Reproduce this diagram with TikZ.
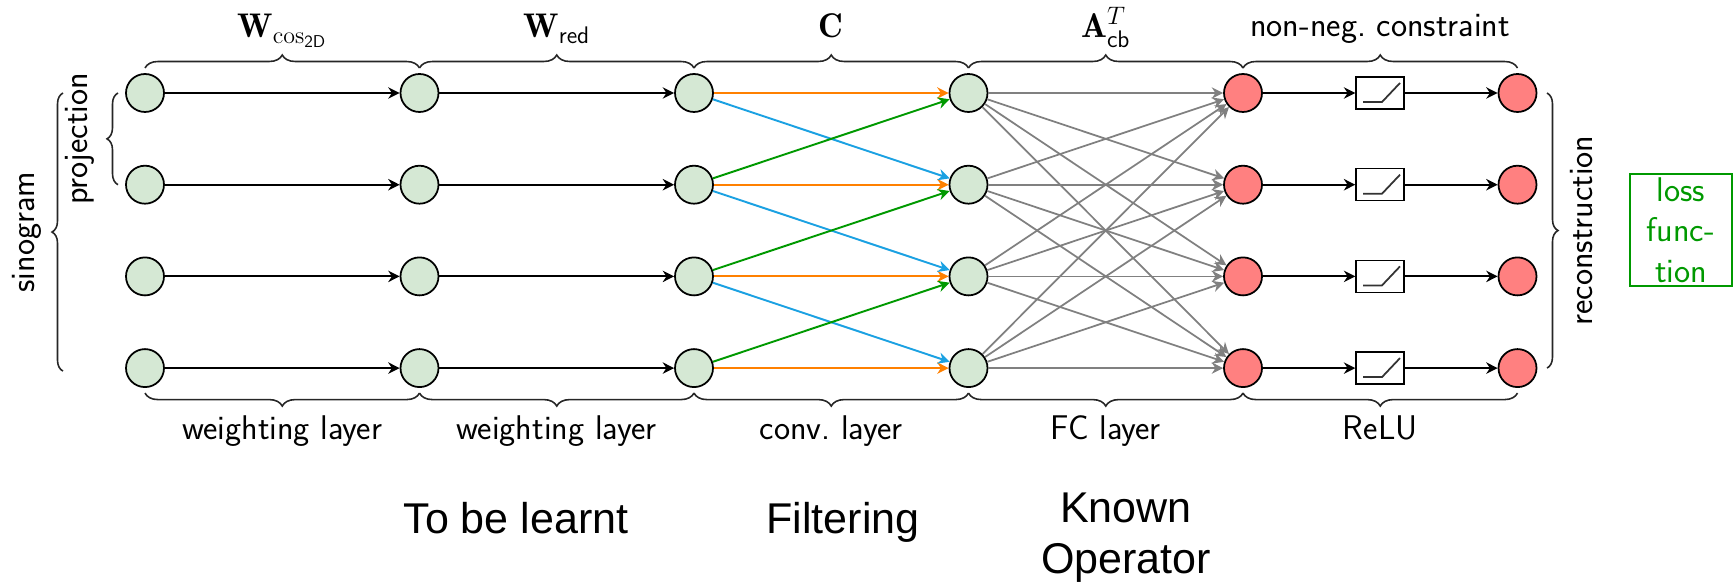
\documentclass[tikz,border=0pt]{standalone}
\usepackage{fontspec}
\newfontfamily\arialfont{Liberation Sans}
\usepackage{amsmath}
\usetikzlibrary{arrows.meta,positioning,calc,decorations.pathreplacing}

\definecolor{nodegreen}{RGB}{213,232,212}
\definecolor{nodered}{RGB}{255,128,128}
\definecolor{convorange}{RGB}{255,128,0}
\definecolor{convblue}{RGB}{27,161,226}
\definecolor{convgreen}{RGB}{0,153,0}

\tikzset{
    neuron/.style={circle, draw=black, line width=1pt, minimum size=0.76cm, inner sep=0pt},
    greenneuron/.style={neuron, fill=nodegreen},
    redneuron/.style={neuron, fill=nodered},
    relubox/.style={draw=black, line width=0.8pt, fill=white, minimum width=0.96cm, minimum height=0.64cm, inner sep=0pt},
    conn/.style={-{Stealth[length=6.5pt,width=6.5pt]}, line width=1.1pt},
    topbrace/.style={decorate, decoration={brace, amplitude=0.26cm}, line width=0.9pt, black!85},
    botbrace/.style={decorate, decoration={brace, amplitude=0.26cm, mirror}, line width=0.9pt, black!85},
    sidebrace/.style={decorate, decoration={brace, amplitude=0.22cm}, line width=0.9pt, black!85},
    lbl/.style={font=\sffamily\fontsize{19.5}{23}\selectfont, inner sep=0pt, text=black},
    note/.style={font=\arialfont\fontsize{24.5}{28.5}\selectfont, align=center, inner sep=0pt}
}

\begin{document}
\begin{tikzpicture}[x=0.02cm, y=0.02cm]
    \useasboundingbox (0,0) rectangle (1735,585);

    % Neurons of the network
    \foreach \i/\y in {0/492,1/400.3,2/308.6,3/216.9} {
        \node[greenneuron] (s\i) at (145,\y) {};
        \node[greenneuron] (c\i) at (419.5,\y) {};
        \node[greenneuron] (w\i) at (694,\y) {};
        \node[greenneuron] (f\i) at (968.5,\y) {};
        \node[redneuron] (b\i) at (1243,\y) {};
        \node[relubox] (relu\i) at (1380,\y) {};
        \node[redneuron] (o\i) at (1517.5,\y) {};
        \draw[line width=1pt, black!80] ($(relu\i.center)+(-17,-9)$) -- ++(19,0) -- ++(18,19);
    }

    % Weighting, filtering and backprojection connections
    \foreach \i in {0,...,3} {
        \draw[conn] (s\i) -- (c\i);
        \draw[conn] (c\i) -- (w\i);
        \draw[conn, convorange] (w\i) -- (f\i);
        \draw[conn] (b\i) -- (relu\i);
        \draw[conn] (relu\i) -- (o\i);
        \foreach \j in {0,...,3}
            \draw[conn, gray, line width=1pt] (f\i) -- (b\j);
    }
    \foreach \i/\j in {0/1,1/2,2/3} {
        \draw[conn, convblue] (w\i) -- (f\j);
        \draw[conn, convgreen] (w\j) -- (f\i);
    }

    % Braces on top
    \draw[topbrace] ($(s0)+(0,25)$) -- ($(c0)+(0,25)$)
        node[lbl, midway, anchor=base, yshift=0.6cm] {$\mathbf{W}_{\cos_{\mathsf{2D}}}$};
    \draw[topbrace] ($(c0)+(0,25)$) -- ($(w0)+(0,25)$)
        node[lbl, midway, anchor=base, yshift=0.6cm] {$\mathbf{W}_{\mathsf{red}}$};
    \draw[topbrace] ($(w0)+(0,25)$) -- ($(f0)+(0,25)$)
        node[lbl, midway, anchor=base, yshift=0.6cm] {$\mathbf{C}$};
    \draw[topbrace] ($(f0)+(0,25)$) -- ($(b0)+(0,25)$)
        node[lbl, midway, anchor=base, yshift=0.6cm] {$\mathbf{A}_{\mathsf{cb}}^{T}$};
    \draw[topbrace] ($(b0)+(0,25)$) -- ($(o0)+(0,25)$)
        node[lbl, midway, anchor=base, yshift=0.64cm] {non-neg.\ constraint};

    % Braces below
    \draw[botbrace] ($(s3)+(0,-25)$) -- ($(c3)+(0,-25)$)
        node[lbl, midway, anchor=base, yshift=-0.92cm] {weighting layer};
    \draw[botbrace] ($(c3)+(0,-25)$) -- ($(w3)+(0,-25)$)
        node[lbl, midway, anchor=base, yshift=-0.92cm] {weighting layer};
    \draw[botbrace] ($(w3)+(0,-25)$) -- ($(f3)+(0,-25)$)
        node[lbl, midway, anchor=base, yshift=-0.92cm] {conv.\ layer};
    \draw[botbrace] ($(f3)+(0,-25)$) -- ($(b3)+(0,-25)$)
        node[lbl, midway, anchor=base, yshift=-0.92cm] {FC layer};
    \draw[botbrace] ($(b3)+(0,-25)$) -- ($(o3)+(0,-25)$)
        node[lbl, midway, anchor=base, yshift=-0.92cm] {ReLU};

    % Side braces
    \draw[sidebrace] ($(s1)+(-27,0)$) -- ($(s0)+(-27,0)$)
        node[lbl, midway, xshift=-0.76cm, rotate=90] (proj) {projection};
    \draw[sidebrace] ($(s3)+(-82,-3)$) -- ($(s0)+(-82,0)$)
        node[lbl, midway, xshift=-0.72cm, rotate=90] (sino) {sinogram};
    \draw[sidebrace] ($(o0)+(29.5,0)$) -- ($(o3)+(29.5,0)$)
        node[lbl, midway, xshift=0.7cm, rotate=90] (recon) {reconstruction};

    % Loss
    \node[lbl, draw=convgreen, text=convgreen, line width=1.2pt, align=center,
          minimum width=2.04cm, minimum height=2.24cm]
          (loss) at (1681,355) {loss\\func-\\tion};

    % Notes
    \node[note, anchor=base] (learnt) at (516,51) {To be learnt};
    \node[note, anchor=base] (filter) at (843,51) {Filtering};
    \node[note, anchor=north] (known) at (1126,92) {Known\\Operator};
\end{tikzpicture}
\end{document}
